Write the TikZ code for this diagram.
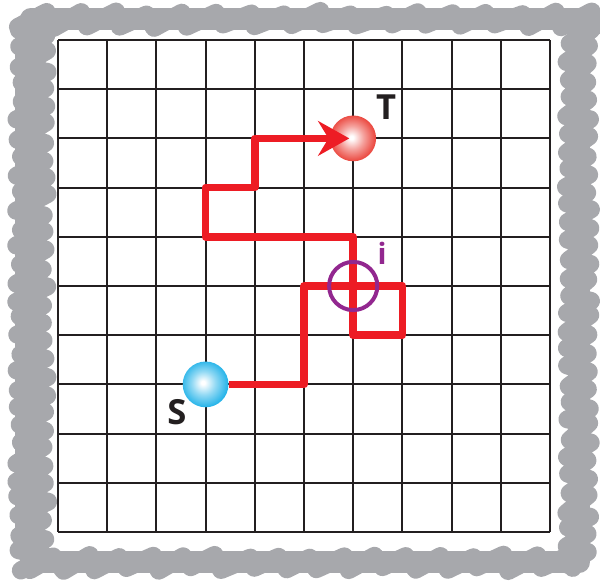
\documentclass[tikz,border=0pt]{standalone}
\usepackage{fontspec}
\newfontfamily\labfont{Open Sans}
\usetikzlibrary{arrows.meta}
\definecolor{pathred}{RGB}{237,28,36}
\definecolor{tcol}{RGB}{232,45,35}
\definecolor{scol}{RGB}{10,170,230}
\definecolor{ipurple}{RGB}{146,39,143}
\definecolor{bordergray}{RGB}{167,168,172}
\definecolor{gridcol}{RGB}{35,31,32}
\pgfdeclareradialshading{tball}{\pgfpoint{-2bp}{1bp}}{color(0bp)=(white); color(2bp)=(white); color(13bp)=(tcol!45!white); color(26bp)=(tcol!90!white); color(50bp)=(tcol)}
\pgfdeclareradialshading{sball}{\pgfpoint{-3bp}{2bp}}{color(0bp)=(white); color(2bp)=(white); color(13bp)=(scol!45!white); color(26bp)=(scol!90!white); color(50bp)=(scol)}
\tikzset{
  gridline/.style={draw=gridcol, line width=1.1pt},
  bandcore/.style={draw=bordergray, line width=13pt, line join=round},
  scrib/.style={draw=bordergray, line width=10.5pt, line cap=round, line join=round},
  ballnode/.style={circle, minimum size=0.93cm, inner sep=0pt},
  routeline/.style={draw=pathred, line width=4.4pt, line join=round,
    -{Stealth[length=18pt, width=20pt, inset=6pt]}, shorten >=0.08cm},
  ring/.style={circle, draw=ipurple, line width=2.3pt, minimum size=0.98cm, inner sep=0pt},
  lab/.style={font=\labfont\bfseries\fontsize{20}{24}\selectfont, text=gridcol, inner sep=0pt},
}
\begin{document}
\begin{tikzpicture}
\useasboundingbox (-1.179,-0.996) rectangle (11.016,10.813);
% scribbled border, drawn in pixel units of the reference
\begin{scope}[shift={(-1.17886,10.81301)}, x=0.0203252cm, y=-0.0203252cm]
\pgfmathsetseed{7}
\draw[bandcore] (31,19) rectangle (579,562);
\draw[bandcore] (26,40) -- (26,545);
% top
\draw[scrib] (18,27) \foreach \x in {18,52,...,570} { -- ({\x+28+3*rand},{13+2*rand}) -- ({\x+34+2*rand},{26+2*rand}) };
% bottom
\draw[scrib] (30,570) \foreach \x in {30,62,...,570} { -- ({\x+26+3*rand},{556+2*rand}) -- ({\x+32+2*rand},{569+2*rand}) };
% left
\draw[scrib] (19,30) \foreach \y in {30,48,...,560} { -- ({45+3*rand},{\y+4+2*rand}) -- ({19+3*rand},{\y+18+2*rand}) };
% right
\draw[scrib] (568,25) \foreach \y in {25,43,...,560} { -- ({589+2*rand},{\y+4+2*rand}) -- ({568+2*rand},{\y+18+2*rand}) };
\end{scope}
% grid
\draw[gridline] (0,0) grid (10,10);
% balls
\node[ballnode, shading=tball] (T) at (6,8) {};
\node[ballnode, shading=sball] (S) at (3,3) {};
% route
\coordinate (p1) at (5,3);
\coordinate (p2) at (5,5);
\coordinate (p3) at (7,5);
\coordinate (p4) at (7,4);
\coordinate (p5) at (6,4);
\coordinate (p6) at (6,6);
\coordinate (p7) at (3,6);
\coordinate (p8) at (3,7);
\coordinate (p9) at (4,7);
\coordinate (p10) at (4,8);
\draw[routeline] (S.east) -- (p1) -- (p2) -- (p3) -- (p4) -- (p5) -- (p6) -- (p7) -- (p8) -- (p9) -- (p10) -- (T.center);
% intersection ring
\node[ring] (ring) at (6,5) {};
% labels
\node[lab] (Tlab) at (6.667,8.638) {T};
\node[lab] (Slab) at (2.419,2.439) {S};
\node[lab, text=ipurple, font=\labfont\bfseries\fontsize{17}{20}\selectfont] (ilab) at (6.585,5.671) {i};
\end{tikzpicture}
\end{document}
